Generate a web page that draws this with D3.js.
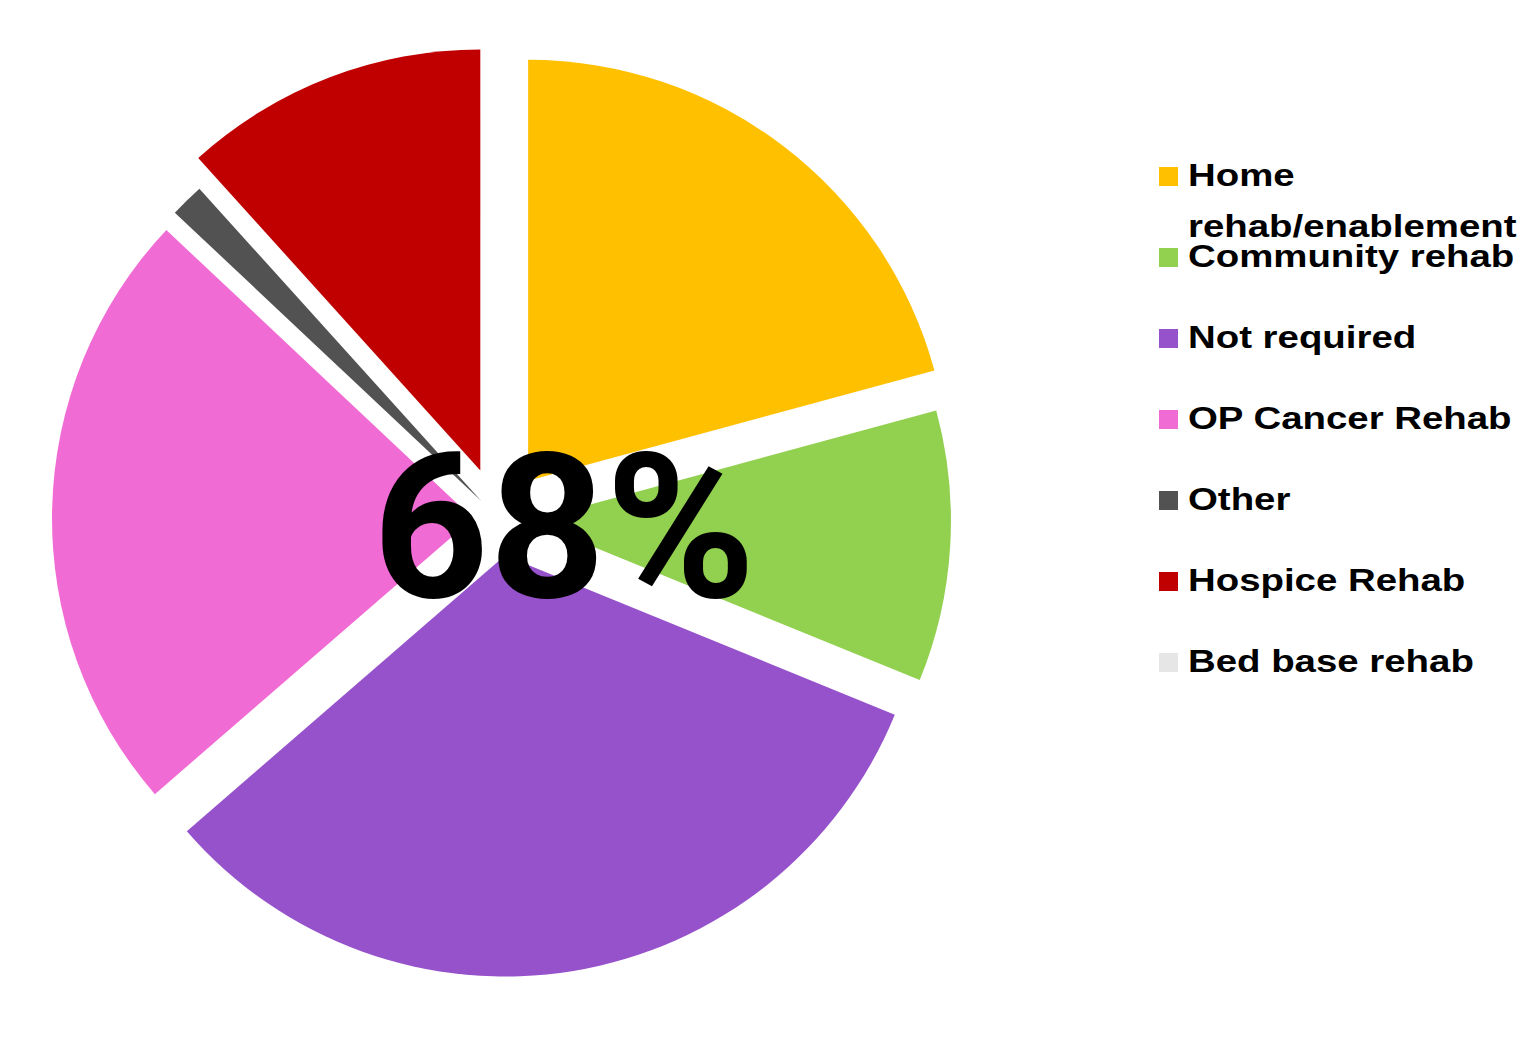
<!DOCTYPE html>
<html>
<head>
<meta charset="utf-8">
<script src="https://cdnjs.cloudflare.com/ajax/libs/d3/7.8.5/d3.min.js"></script>
<style>
  body { margin: 0; background: #fff; }
  svg { display: block; }
</style>
</head>
<body>
<div id="chart"></div>
<script>
// categories and counts
var categories = ['Home rehab/enablement', 'Community rehab', 'Not required', 'OP Cancer Rehab', 'Other', 'Hospice Rehab', 'Bed base rehab'];
var counts = [16, 8, 25, 18, 1, 9, 0];
var legendLines = [['Home', 'rehab/enablement'], ['Community rehab'], ['Not required'], ['OP Cancer Rehab'], ['Other'], ['Hospice Rehab'], ['Bed base rehab']];
var centreLabel = '68%';

// styling
var colours = ['#FFC000', '#92D050', '#9652CB', '#F16BD5', '#525252', '#C00000', '#E6E6E6'];
var explode = [48, 31, 37, 26, 25, 52, 0];   // how far each slice is pulled out

var width = 1521, height = 1052;
var centre = { x: 499, y: 519 };
var radius = 421;

var svg = d3.select('#chart')
  .append('svg')
  .attr('width', width)
  .attr('height', height);

var rows = categories.map(function(c, i) {
  return { name: c, value: counts[i], colour: colours[i], explode: explode[i] };
});

var pie = d3.pie().sort(null).value(function(d) { return d.value; });
var arc = d3.arc().innerRadius(0).outerRadius(radius);

var pieG = svg.append('g')
  .attr('transform', 'translate(' + centre.x + ',' + centre.y + ')');

pieG.selectAll('path')
  .data(pie(rows).filter(function(d) { return d.data.value > 0; }))
  .enter()
  .append('path')
  .attr('d', arc)
  .attr('fill', function(d) { return d.data.colour; })
  .attr('transform', function(d) {
    var mid = (d.startAngle + d.endAngle) / 2;
    var dx = Math.sin(mid) * d.data.explode;
    var dy = -Math.cos(mid) * d.data.explode;
    return 'translate(' + dx + ',' + dy + ')';
  });

// legend
var legendY = d3.scalePoint().domain(categories).range([186, 672]);
var lineGap = 51;

var legend = svg.selectAll('.legend')
  .data(rows)
  .enter()
  .append('g')
  .attr('class', 'legend')
  .attr('transform', function(d) { return 'translate(1159,' + legendY(d.name) + ')'; });

legend.append('rect')
  .attr('x', 0)
  .attr('y', -19)
  .attr('width', 19)
  .attr('height', 19)
  .attr('fill', function(d) { return d.colour; });

legend.each(function(d, i) {
  var g = d3.select(this);
  legendLines[i].forEach(function(line, j) {
    g.append('text')
      .attr('transform', 'translate(29,' + (j * lineGap) + ') scale(1.2,1)')
      .style('font-family', '"Liberation Sans", Arial, sans-serif')
      .style('font-weight', 'bold')
      .style('font-size', '32px')
      .style('fill', '#000')
      .text(line);
  });
});

// big overlay number
svg.append('text')
  .attr('x', 564)
  .attr('y', 597)
  .attr('text-anchor', 'middle')
  .style('font-family', 'Roboto, "Open Sans", sans-serif')
  .style('font-weight', 'bold')
  .style('font-size', '203px')
  .style('fill', '#000')
  .text(centreLabel);
</script>
</body>
</html>
